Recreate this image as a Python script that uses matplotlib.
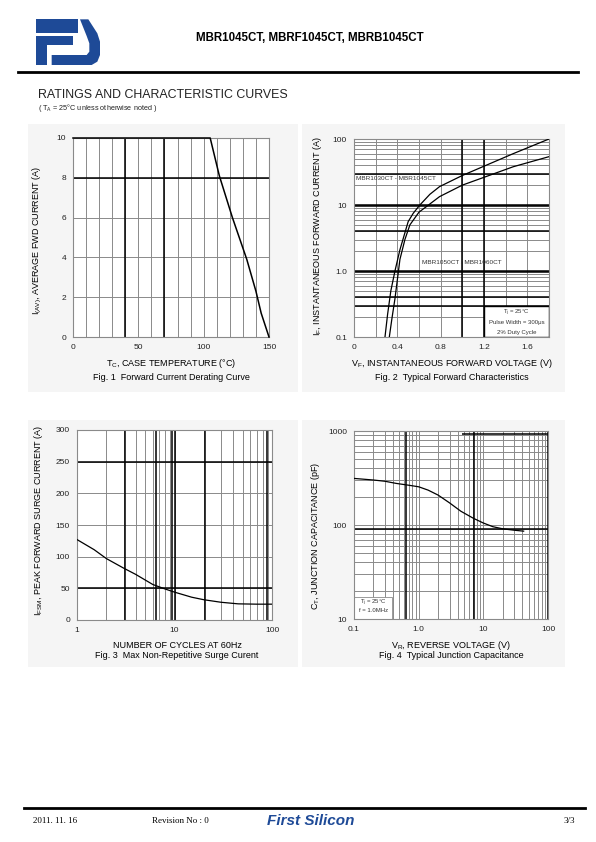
import matplotlib.pyplot as plt
from matplotlib.patches import Rectangle, Polygon

plt.rcParams['font.family'] = ['Liberation Sans', 'DejaVu Sans']
plt.rcParams['mathtext.default'] = 'regular'

W, H = 596, 842
GRAY = '#8a8a8a'
BLUE = '#1e4a97'

# Fig.1 forward current derating
tc = [0, 105, 112, 122, 133, 140, 144, 150]
iav = [10, 10, 8.1, 6.0, 3.9, 2.3, 1.2, 0]

# Fig.2 forward characteristics (two device groups)
vf_a = [0.286, 0.31, 0.34, 0.378, 0.424, 0.5, 0.547, 0.608, 0.7, 0.79, 1.0, 1.22, 1.47, 1.8]
if_a = [0.1, 0.22, 0.5, 1.0, 2.1, 5.6, 7.5, 10, 14.5, 19, 28, 40, 60, 100]
vf_b = [0.326, 0.35, 0.378, 0.424, 0.47, 0.516, 0.6, 0.67, 0.79, 1.0, 1.22, 1.47, 1.8]
if_b = [0.1, 0.19, 0.38, 1.5, 3.0, 5.0, 7.8, 9.5, 13.4, 20, 27, 38, 54]

# Fig.3 surge current
cycles = [1, 1.5, 2, 3, 4, 6, 8, 10, 15, 20, 30, 45, 70, 100]
ifsm = [127, 111, 97, 82, 72, 56, 49, 44, 36, 32, 28, 25.5, 25, 25]

# Fig.4 junction capacitance
vr = [0.1, 0.2, 0.3, 0.45, 0.7, 1.0, 1.4, 2.0, 3.0, 4.5, 7, 10, 14, 20, 30, 42]
cj = [313, 301, 292, 277, 265, 255, 235, 208, 172, 140, 118, 105, 96, 91, 88, 86]


def rect(l, t, r, b):
    return [l / W, 1 - b / H, (r - l) / W, (b - t) / H]


def style(ax):
    ax.tick_params(which='both', length=0, labelsize=6, pad=5, colors='#222222')
    for s in ax.spines.values():
        s.set_color(GRAY)
        s.set_linewidth(0.8)
    ax.grid(True, which='both', color=GRAY, lw=0.7)
    ax.set_axisbelow(True)


def dark(ax, xs=(), ys=()):
    for v in xs:
        ax.axvline(v, color='k', lw=1.1, zorder=0.8)
    for v in ys:
        ax.axhline(v, color='k', lw=1.1, zorder=0.8)


fig = plt.figure(figsize=(W / 100, H / 100), dpi=100)

# page layer in pixel coordinates
bg = fig.add_axes([0, 0, 1, 1])
bg.set_xlim(0, W)
bg.set_ylim(H, 0)
bg.axis('off')

for x0, y0, w, h in [(28, 124, 270, 268), (302, 124, 263, 268),
                     (28, 420, 270, 247), (302, 420, 263, 247)]:
    bg.add_patch(Rectangle((x0, y0), w, h, color='#f5f5f5', lw=0))

# logo
def lp(pts):
    return [(20 + x / 3, 10 + y / 3) for x, y in pts]

bg.add_patch(Polygon(lp([(48, 28), (175, 28), (175, 68), (48, 68)]), color=BLUE, lw=0))
bg.add_patch(Polygon(lp([(48, 78), (160, 78), (160, 105), (80, 105), (80, 165), (48, 165)]), color=BLUE, lw=0))
bg.add_patch(Polygon(lp([(180, 28), (205, 28), (232, 70), (240, 95), (240, 135), (232, 155),
                         (215, 165), (95, 165), (95, 135), (200, 135), (208, 125), (208, 100),
                         (200, 78)]), color=BLUE, lw=0))

bg.text(310, 38, 'MBR1045CT, MBRF1045CT, MBRB1045CT', ha='center', va='center',
        fontsize=8.3, fontweight='bold')
bg.plot([18, 578], [72, 72], color='k', lw=2)
bg.text(38, 95, 'RATINGS AND CHARACTERISTIC CURVES', ha='left', va='center', fontsize=8.9, color='#222222')
bg.text(38, 108, '( T$_A$ = 25°C unless otherwise noted )', ha='left', va='center', fontsize=5.2, color='#222222')

# footer
bg.plot([24, 585], [808, 808], color='k', lw=2)
bg.text(33, 821, '2011. 11. 16', ha='left', va='center', fontsize=6.5, family='Liberation Serif')
bg.text(152, 821, 'Revision No : 0', ha='left', va='center', fontsize=6.5, family='Liberation Serif')
bg.text(311, 821, 'First Silicon', ha='center', va='center', fontsize=11, fontweight='bold',
        style='italic', color=BLUE)
bg.text(575, 821, '3/3', ha='right', va='center', fontsize=6.5, family='Liberation Serif')

# ---- Fig 1
ax1 = fig.add_axes(rect(73, 138, 269, 337))
ax1.set_xlim(0, 150)
ax1.set_ylim(0, 10)
ax1.set_xticks([0, 50, 100, 150])
ax1.set_xticks(range(0, 151, 10), minor=True)
ax1.set_yticks([0, 2, 4, 6, 8, 10])
style(ax1)
dark(ax1, xs=[40, 70], ys=[8])
ax1.plot(tc, iav, color='k', lw=1.1, clip_on=False, zorder=3)
bg.text(37, 240, 'I$_{(AV)}$, AVERAGE FWD CURRENT (A)', rotation=90, ha='center', va='center', fontsize=6.5)
bg.text(171, 364, 'T$_C$, CASE TEMPERATURE (°C)', ha='center', va='center', fontsize=6.5)
bg.text(171, 377, 'Fig. 1  Forward Current Derating Curve', ha='center', va='center', fontsize=6.5)

# ---- Fig 2
ax2 = fig.add_axes(rect(354, 139, 549, 337))
ax2.set_yscale('log')
ax2.set_xlim(0, 1.8)
ax2.set_ylim(0.1, 100)
ax2.set_xticks([0, 0.4, 0.8, 1.2, 1.6])
ax2.set_xticklabels(['0', '0.4', '0.8', '1.2', '1.6'])
ax2.set_xticks([0.2 * i for i in range(10)], minor=True)
ax2.set_yticks([0.1, 1, 10, 100])
ax2.set_yticklabels(['0.1', '1.0', '10', '100'])
ax2.tick_params(axis='y', which='minor', labelleft=False)
style(ax2)
dark(ax2, xs=[1.0, 1.2], ys=[30, 10, 9.5, 4, 1, 0.95, 0.4, 0.3])
ax2.add_patch(Rectangle((1.2, 0.1), 0.6, 0.2, facecolor='white', edgecolor='k', lw=1.0, zorder=1))
ax2.plot(vf_a, if_a, color='k', lw=0.9, zorder=3)
ax2.plot(vf_b, if_b, color='k', lw=0.9, zorder=3)
ax2.text(0.01, 0.8, 'MBR1030CT - MBR1045CT', transform=ax2.transAxes, fontsize=4.6, va='center', color='#333333')
ax2.text(0.35, 0.375, 'MBR1050CT / MBR1060CT', transform=ax2.transAxes, fontsize=4.6, va='center', color='#333333')
ax2.text(1.5, 0.235, 'T$_j$ = 25°C', ha='center', va='center', fontsize=4.3, color='#333333', zorder=4)
ax2.text(1.5, 0.165, 'Pulse Width = 300μs', ha='center', va='center', fontsize=4.3, color='#333333', zorder=4)
ax2.text(1.5, 0.118, '2% Duty Cycle', ha='center', va='center', fontsize=4.3, color='#333333', zorder=4)
bg.text(318, 236, 'I$_F$, INSTANTANEOUS FORWARD CURRENT (A)', rotation=90, ha='center', va='center', fontsize=6.5)
bg.text(452, 364, 'V$_F$, INSTANTANEOUS FORWARD VOLTAGE (V)', ha='center', va='center', fontsize=6.5)
bg.text(452, 377, 'Fig. 2  Typical Forward Characteristics', ha='center', va='center', fontsize=6.5)

# ---- Fig 3
ax3 = fig.add_axes(rect(77, 430, 272, 620))
ax3.set_xscale('log')
ax3.set_xlim(1, 100)
ax3.set_ylim(0, 300)
ax3.set_yticks(range(0, 301, 50))
ax3.set_xticks([1, 10, 100])
ax3.set_xticklabels(['1', '10', '100'])
ax3.tick_params(axis='x', which='minor', labelbottom=False)
style(ax3)
dark(ax3, xs=[3.1, 6.4, 9.4, 10, 20.7, 89], ys=[250, 50])
ax3.plot(cycles, ifsm, color='k', lw=0.9, zorder=3)
bg.text(39, 520, 'I$_{FSM}$, PEAK FORWARD SURGE CURRENT (A)', rotation=90, ha='center', va='center', fontsize=6.5)
bg.text(177, 645, 'NUMBER OF CYCLES AT 60Hz', ha='center', va='center', fontsize=6.5)
bg.text(177, 655, 'Fig. 3  Max Non-Repetitive Surge Curent', ha='center', va='center', fontsize=6.5)

# ---- Fig 4
ax4 = fig.add_axes(rect(354, 431, 548, 619))
ax4.set_xscale('log')
ax4.set_yscale('log')
ax4.set_xlim(0.1, 100)
ax4.set_ylim(10, 1000)
ax4.set_xticks([0.1, 1, 10, 100])
ax4.set_xticklabels(['0.1', '1.0', '10', '100'])
ax4.set_yticks([10, 100, 1000])
ax4.set_yticklabels(['10', '100', '1000'])
ax4.tick_params(which='minor', labelbottom=False, labelleft=False)
style(ax4)
dark(ax4, xs=[0.63, 7.3, 100], ys=[90])
ax4.hlines(930, 4.6, 100, color='k', lw=1.1, zorder=0.8)
ax4.add_patch(Rectangle((0.101, 10.1), 0.28, 7.2, facecolor='white', edgecolor=GRAY, lw=0.6, zorder=1))
ax4.text(0.2, 15.0, 'T$_j$ = 25°C', ha='center', va='center', fontsize=4.3, color='#333333', zorder=4)
ax4.text(0.2, 12.3, 'f = 1.0MHz', ha='center', va='center', fontsize=4.3, color='#333333', zorder=4)
ax4.plot(vr, cj, color='k', lw=0.9, zorder=3)
bg.text(315, 536, 'C$_T$, JUNCTION CAPACITANCE (pF)', rotation=90, ha='center', va='center', fontsize=6.5)
bg.text(451, 645, 'V$_R$, REVERSE VOLTAGE (V)', ha='center', va='center', fontsize=6.5)
bg.text(451, 655, 'Fig. 4  Typical Junction Capacitance', ha='center', va='center', fontsize=6.5)

fig.savefig('out.png', dpi=100)
